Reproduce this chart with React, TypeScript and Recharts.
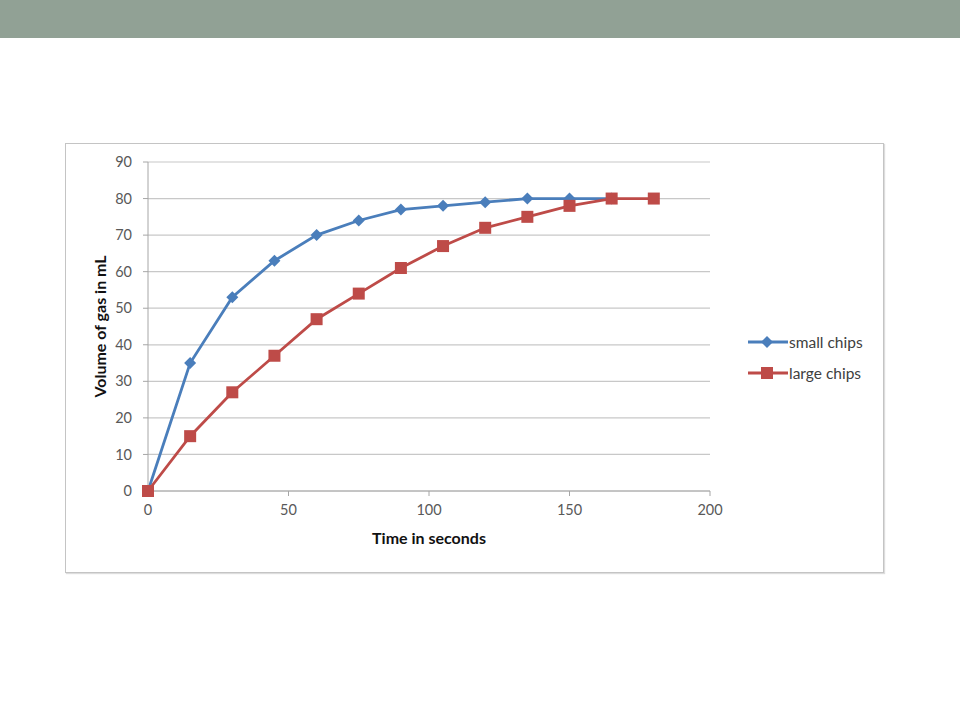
import React from "react";
import { LineChart, Line, XAxis, YAxis, CartesianGrid } from "recharts";

// time in seconds, every 15 s
const times = [0, 15, 30, 45, 60, 75, 90, 105, 120, 135, 150, 165, 180];
// volume of gas in mL
const smallChips = [0, 35, 53, 63, 70, 74, 77, 78, 79, 80, 80, 80];
const largeChips = [0, 15, 27, 37, 47, 54, 61, 67, 72, 75, 78, 80, 80];

const xTicks = [0, 50, 100, 150, 200];
const yTicks = [0, 10, 20, 30, 40, 50, 60, 70, 80, 90];

const series = [
  { key: "small", name: "small chips", color: "#4a7ebb", marker: "diamond" },
  { key: "large", name: "large chips", color: "#be4b48", marker: "square" },
];

const data = times.map((t, i) => ({
  time: t,
  small: smallChips[i],
  large: largeChips[i],
}));

const FONT = "Lato, 'DejaVu Sans', sans-serif";

function Marker({ cx, cy, color, marker }: any) {
  if (cx == null || cy == null) return null;
  if (marker === "diamond") {
    const r = 6;
    return (
      <polygon
        points={`${cx},${cy - r} ${cx + r},${cy} ${cx},${cy + r} ${cx - r},${cy}`}
        fill={color}
      />
    );
  }
  const s = 12;
  return <rect x={cx - s / 2} y={cy - s / 2} width={s} height={s} fill={color} />;
}

function LegendBox() {
  return (
    <div style={{ position: "absolute", left: 748, top: 326, fontFamily: FONT, fontSize: 15.5, color: "#404040" }}>
      {series.map((s) => (
        <div key={s.key} style={{ display: "flex", alignItems: "center", height: 31 }}>
          <svg width={40} height={14} style={{ marginRight: 1 }}>
            <line x1={0} y1={7} x2={40} y2={7} stroke={s.color} strokeWidth={3} />
            <Marker cx={19} cy={7} color={s.color} marker={s.marker} />
          </svg>
          <span>{s.name}</span>
        </div>
      ))}
    </div>
  );
}

export default function App() {
  return (
    <div style={{ position: "absolute", left: 0, top: 0, width: 960, height: 720, background: "#fff", overflow: "hidden" }}>
      <div style={{ position: "absolute", left: 0, top: 0, width: 960, height: 38, background: "#91a195" }} />
      <div
        style={{
          position: "absolute",
          left: 65,
          top: 143,
          width: 817,
          height: 428,
          border: "1px solid #c4c4c4",
          boxShadow: "1px 1px 1px #ddd",
        }}
      />
      <div style={{ position: "absolute", left: 0, top: 0 }}>
        <LineChart
          width={960}
          height={720}
          data={data}
          margin={{ top: 162, left: 88, right: 250, bottom: 199 }}
          style={{ fontFamily: FONT }}
        >
          <CartesianGrid vertical={false} stroke="#c8c8c8" strokeWidth={1.2} />
          <XAxis
            dataKey="time"
            type="number"
            domain={[0, 200]}
            ticks={xTicks}
            height={30}
            stroke="#a6a6a6"
            tickSize={5}
            tickMargin={9}
            tick={{ fill: "#595959", fontSize: 14.5 }}
            label={{ value: "Time in seconds", position: "bottom", offset: 12, fill: "#111", fontSize: 16, fontWeight: 700 }}
          />
          <YAxis
            type="number"
            domain={[0, 90]}
            ticks={yTicks}
            width={60}
            stroke="#a6a6a6"
            tickSize={5}
            tickMargin={11}
            tick={{ fill: "#595959", fontSize: 14.5 }}
            label={{ value: "Volume of gas in mL", angle: -90, position: "center", dx: -18, fill: "#111", fontSize: 16, fontWeight: 700 }}
          />
          {series.map((s) => (
            <Line
              key={s.key}
              dataKey={s.key}
              name={s.name}
              type="linear"
              stroke={s.color}
              strokeWidth={2.8}
              isAnimationActive={false}
              dot={(p: any) => <Marker key={`${s.key}-${p.index}`} cx={p.cx} cy={p.cy} color={s.color} marker={s.marker} />}
              activeDot={false}
            />
          ))}
        </LineChart>
      </div>
      <LegendBox />
    </div>
  );
}
